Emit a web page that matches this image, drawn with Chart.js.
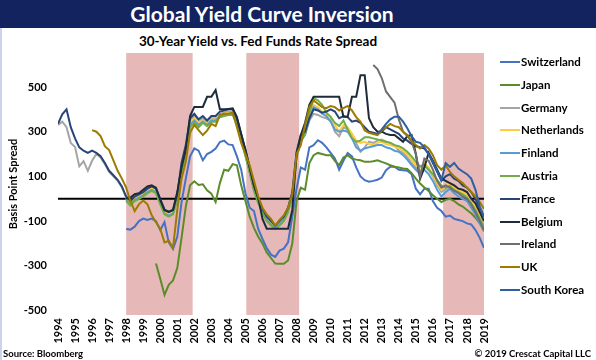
<!DOCTYPE html>
<html><head><meta charset="utf-8">
<script src="https://cdn.jsdelivr.net/npm/chart.js@4"></script>
<style>
html,body{margin:0;padding:0;background:#fff;}
body{width:596px;height:360px;position:relative;overflow:hidden;font-family:Lato,'Open Sans',sans-serif;color:#000;}
#banner{position:absolute;left:0;top:0;width:596px;height:28px;background:#13235F;}
#title{position:absolute;left:0;top:0;width:524px;height:28px;line-height:28px;text-align:center;color:#fff;font-weight:700;font-size:21px;}
#subtitle{position:absolute;left:0;top:33px;width:516px;text-align:center;font-weight:700;font-size:13.5px;line-height:17px;}
#leftBorder{position:absolute;left:0;top:28px;width:2px;height:332px;background:#C9D4EC;}
canvas{position:absolute;left:0;top:0;}
#legend{position:absolute;left:0;top:0;}
.li{position:absolute;left:500px;height:14px;font-weight:700;font-size:11.5px;line-height:14px;white-space:nowrap;}
.li span.sw{position:absolute;left:0;top:6px;width:20px;height:2px;}
.li span.tx{position:absolute;left:21px;top:0;}
#source{position:absolute;left:3px;top:348px;font-weight:700;font-size:9.5px;line-height:12px;}
#copy{position:absolute;right:5px;top:348px;font-weight:700;font-size:9.5px;line-height:12px;}
</style>
</head>
<body>
<div id="banner"></div>
<div id="title">Global Yield Curve Inversion</div>
<div id="leftBorder"></div>
<div id="subtitle">30-Year Yield vs. Fed Funds Rate Spread</div>
<canvas id="c" width="596" height="360"></canvas>
<div id="legend"></div>
<div id="source">Source: Bloomberg</div>
<div id="copy">© 2019 Crescat Capital LLC</div>
<script>
// quarterly time axis (decimal years)
const quarters = Array.from({length: 101}, (_, i) => 1994 + i / 4);
const yearTicks = [1994,1995,1996,1997,1998,1999,2000,2001,2002,2003,2004,2005,2006,2007,2008,2009,2010,2011,2012,2013,2014,2015,2016,2017,2018,2019];
const yTicks = [-500,-300,-100,100,300,500];
const shadeStarts = [1998.0, 2005.05, 2016.6];
const shadeEnds = [2001.9, 2008.15, 2019.0];

const switzerland = [
 null,null,null,null, null,null,null,null, null,null,null,null, null,null,null,null,
 -135,-138,-125,-100, -89,-95,-89,-100, -140,-105,-195,-225, -170,-15,90,190,
 225,215,172,200, 210,225,254,260, 243,240,190,130, 25,-40,-55,-135,
 -180,-220,-250,-260, -232,-223,-195,-80, 45,140,130,230, 240,262,250,230,
 205,180,130,170, 205,190,140,100, 83,76,80,85, 95,128,143,143,
 130,128,125,110, 45,20,45,45, -10,-40,-55,-80, -75,-90,-95,-100,
 -110,-115,-140,-175, -220];
const japan = [
 null,null,null,null, null,null,null,null, null,null,null,null, null,null,null,null,
 null,null,null,null, null,null,null,-290, -358,-430,-385,-365, -310,-175,-35,60,
 78,62,65,38, 23,-15,70,130, 125,155,150,60, -10,-80,-130,-170,
 -200,-240,-265,-290, -291,-291,-276,-200, -10,50,40,160, 195,205,200,195,
 195,170,150,185, 195,180,175,172, 165,165,168,172, 165,158,150,143,
 140,135,133,115, 90,68,50,35, 16,0,-15,-5, 0,-10,-25,-35,
 -50,-65,-85,-110, -145];
const germany = [
 330,345,320,250, 232,145,168,125, 170,200,185,155, 120,100,80,50,
 5,-15,5,15, 25,40,50,40, -10,-55,-65,-55, 10,150,230,350,
 370,345,360,340, 360,360,380,385, 390,390,350,280, 205,130,50,-5,
 -50,-85,-105,-120, -105,-85,-45,25, 200,270,290,350, 380,375,365,360,
 350,300,280,320, 310,290,250,210, 230,255,250,260, 265,255,250,240,
 215,205,185,160, 140,120,150,130, 100,60,30,45, 60,40,30,20,
 10,-20,-50,-80, -120];
const netherlands = [
 null,null,null,null, null,null,null,null, null,null,null,null, null,null,null,null,
 0,-20,0,10, 20,35,45,35, -15,-60,-70,-60, 5,140,220,340,
 360,340,350,335, 355,355,375,380, 385,385,345,275, 200,125,45,-10,
 -55,-90,-110,-125, -110,-90,-50,20, 195,265,290,360, 420,410,390,380,
 370,330,300,330, 320,290,260,250, 255,245,240,250, 255,245,240,235,
 225,215,200,175, 150,140,160,140, 105,70,40,55, 70,50,40,30,
 20,-5,-35,-70, -100];
const finland = [
 null,null,null,null, null,null,null,null, null,null,null,null, null,null,null,null,
 -5,-25,-5,5, 15,30,40,30, -20,-65,-75,-65, 0,130,210,330,
 350,330,345,330, 350,350,370,375, 380,380,340,270, 195,120,40,-15,
 -60,-95,-115,-130, -115,-95,-55,15, 190,260,285,355, 410,400,380,370,
 345,310,300,305, 300,270,230,215, 225,230,235,240, 240,230,225,215,
 210,195,175,150, 130,110,130,110, 80,40,10,30, 45,25,10,0,
 -10,-40,-70,-110, -140];
const austria = [
 null,null,null,null, null,null,null,null, null,null,null,null, null,null,null,null,
 -10,-30,-10,0, 10,25,35,25, -25,-70,-80,-70, -5,120,200,320,
 340,320,340,325, 345,345,365,370, 375,375,335,265, 190,115,35,-20,
 -65,-100,-120,-135, -120,-100,-60,10, 185,255,290,380, 450,440,420,385,
 365,340,325,350, 310,270,255,260, 275,275,270,265, 260,255,250,240,
 235,225,210,190, 165,145,150,130, 110,85,60,50, 55,40,30,20,
 5,-20,-50,-90, -130];
const france = [
 335,378,400,320, 270,230,215,205, 215,205,190,160, 125,105,85,55,
 10,-10,10,20, 30,45,55,45, 0,-50,-60,-50, 20,160,240,360,
 380,355,370,350, 370,370,390,395, 400,400,360,290, 215,140,60,0,
 -45,-80,-100,-120, -100,-80,-40,30, 210,285,300,360, 400,395,385,390,
 400,390,360,370, 365,345,350,340, 320,300,295,290, 300,320,310,300,
 290,270,260,245, 235,230,225,200, 160,120,80,100, 110,90,80,60,
 50,30,0,-40, -80];
const belgium = [
 null,null,null,null, null,null,null,null, null,null,null,null, null,null,null,null,
 0,5,20,25, 40,55,60,50, -5,-50,-58,-50, 30,140,220,370,
 411,411,411,456, 456,486,400,400, 402,404,365,290, 220,140,60,5,
 -90,-134,-134,-134, -134,-134,-134,-50, 200,285,340,420, 456,456,456,456,
 456,456,456,367, 367,456,456,553, 553,360,320,300, 300,290,285,285,
 270,255,280,285, 200,90,140,205, 170,130,90,80, 70,60,45,40,
 30,0,-20,-60, -100];
const ireland = [
 null,null,null,null, null,null,null,null, null,null,null,null, null,null,null,null,
 null,null,null,null, null,null,null,null, null,null,null,null, null,null,null,null,
 null,null,null,null, null,null,null,null, null,null,null,null, null,null,null,null,
 null,null,null,null, null,null,null,null, null,null,null,null, null,null,null,null,
 null,null,null,null, null,null,null,null, null,null,598,580, 540,480,455,430,
 355,300,280,255, 200,100,180,170, 130,80,50,60, 50,35,25,10,
 0,-25,-60,-100, -140];
const uk = [
 null,null,null,null, null,null,null,null, 307,300,280,235, 218,172,125,90,
 50,-10,-55,-25, -8,-25,-74,-105, -135,-195,-188,-220, -50,90,165,295,
 330,307,285,305, 335,325,375,380, 380,385,320,250, 200,150,80,10,
 -40,-70,-90,-120, -95,-75,-40,20, 200,240,330,410, 440,425,410,405,
 415,410,395,405, 415,395,365,345, 305,295,290,285, 305,320,335,325,
 320,300,285,260, 240,225,240,225, 195,150,130,150, 120,100,85,70,
 50,30,10,-15, -45];
const southKorea = [
 null,null,null,null, null,null,null,null, null,null,null,null, null,null,null,null,
 null,null,null,null, null,null,null,null, null,null,null,null, null,null,null,null,
 null,null,null,null, null,null,null,null, null,null,null,null, null,null,null,null,
 null,null,null,null, null,null,null,null, null,null,null,null, null,null,null,null,
 null,null,null,null, null,null,null,null, null,null,null,290, 310,335,355,367,
 367,345,315,280, 255,250,230,200, 165,125,83,160, 143,160,135,122,
 110,90,40,-35, -82];

const seriesNames = ['Switzerland','Japan','Germany','Netherlands','Finland','Austria','France','Belgium','Ireland','UK','South Korea'];
const seriesValues = [switzerland, japan, germany, netherlands, finland, austria, france, belgium, ireland, uk, southKorea];
const seriesColors = ['#4472C4','#5B8C2A','#A5A5A5','#FFCC3F','#5B9BD5','#70AD47','#264478','#1F2A3A','#6F6F6F','#9E7A00','#2E5FA3'];

const datasets = seriesNames.map((name, k) => ({
  label: name,
  data: quarters.map((q, i) => ({x: q, y: seriesValues[k][i]})).filter(p => p.y !== null && p.y !== undefined),
  borderColor: seriesColors[k],
  backgroundColor: seriesColors[k],
  borderWidth: 2,
  pointRadius: 0,
  tension: 0,
  fill: false,
  order: seriesNames.length - 1 - k
}));

const bgPlugin = {
  id: 'bands',
  beforeDatasetsDraw(chart) {
    const {ctx, chartArea, scales} = chart;
    ctx.save();
    ctx.fillStyle = '#E6B9B8';
    for (let i = 0; i < shadeStarts.length; i++) {
      const x1 = scales.x.getPixelForValue(shadeStarts[i]);
      const x2 = scales.x.getPixelForValue(shadeEnds[i]);
      ctx.fillRect(x1, chartArea.top, x2 - x1, chartArea.bottom - chartArea.top);
    }
    const y0 = scales.y.getPixelForValue(0);
    ctx.strokeStyle = '#000';
    ctx.lineWidth = 2;
    ctx.beginPath();
    ctx.moveTo(chartArea.left, y0);
    ctx.lineTo(chartArea.right, y0);
    ctx.stroke();
    ctx.restore();
  }
};

const FONT = "Lato, 'Open Sans', sans-serif";
new Chart(document.getElementById('c'), {
  type: 'line',
  data: {datasets},
  plugins: [bgPlugin],
  options: {
    responsive: false,
    animation: false,
    layout: {padding: {top: 53, right: 112, left: 0, bottom: 0}},
    plugins: {legend: {display: false}, title: {display: false}, tooltip: {enabled: false}},
    scales: {
      x: {
        type: 'linear', min: 1994, max: 2019,
        grid: {display: false, drawTicks: false},
        border: {display: false},
        afterBuildTicks: s => { s.ticks = yearTicks.map(v => ({value: v})); },
        afterFit: s => { s.height = 45; },
        ticks: {autoSkip: false, maxRotation: 90, minRotation: 90, padding: 3, color: '#000',
          font: {family: FONT, weight: 'bold', size: 11}, callback: v => String(v)}
      },
      y: {
        type: 'linear', min: -520, max: 652,
        grid: {display: false, drawTicks: false},
        border: {display: false},
        afterBuildTicks: s => { s.ticks = yTicks.map(v => ({value: v})); },
        afterFit: s => { s.width = 58; },
        ticks: {padding: 11, color: '#000', font: {family: FONT, weight: 'bold', size: 11}, callback: v => String(v)},
        title: {display: true, text: 'Basis Point Spread', color: '#000', padding: {top: 7, bottom: 0},
          font: {family: FONT, weight: 'bold', size: 11}}
      }
    }
  }
});

const legendEl = document.getElementById('legend');
seriesNames.forEach((name, k) => {
  const d = document.createElement('div');
  d.className = 'li';
  d.style.top = (62 + k * 22.8 - 7) + 'px';
  d.innerHTML = '<span class="sw" style="background:' + seriesColors[k] + '"></span><span class="tx">' + name + '</span>';
  legendEl.appendChild(d);
});
</script>
</body></html>
